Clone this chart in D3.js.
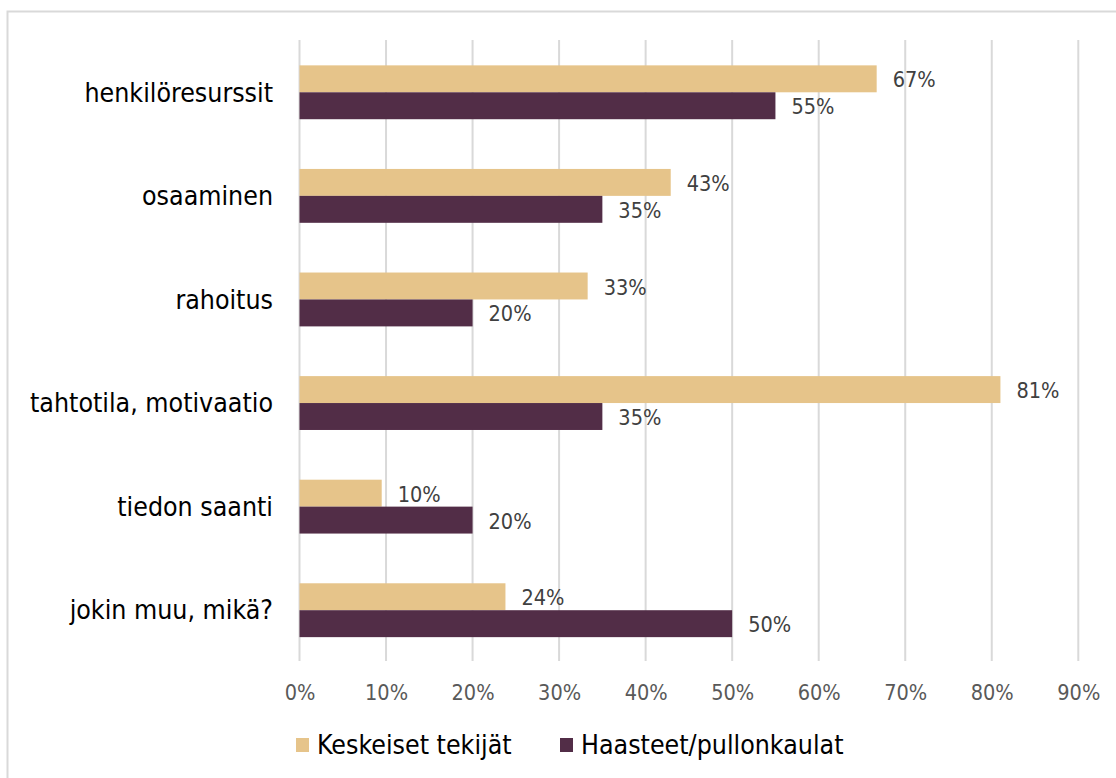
<!DOCTYPE html>
<html><head><meta charset="utf-8">
<script src="https://cdn.jsdelivr.net/npm/d3@7"></script>
<style>body{margin:0;background:#fff;} svg{display:block;}</style>
</head><body>
<svg id="c" width="1116" height="778"></svg>
<script>
const categories = ["henkilöresurssit","osaaminen","rahoitus","tahtotila, motivaatio","tiedon saanti","jokin muu, mikä?"];
const seriesNames = ["Keskeiset tekijät","Haasteet/pullonkaulat"];
const keskeiset = [66.7, 42.9, 33.3, 81.0, 9.5, 23.8];
const haasteet = [55, 35, 20, 35, 20, 50];
const tickValues = [0,10,20,30,40,50,60,70,80,90];
const colors = ["#E6C48A","#522D47"];
const FONT = "'DejaVu Sans Condensed', 'DejaVu Sans', sans-serif";

const svg = d3.select("#c");
svg.append("rect").attr("x",7.5).attr("y",11.5).attr("width",1120).attr("height",780)
  .attr("fill","#fff").attr("stroke","#d9d9d9").attr("stroke-width",2);

const x = d3.scaleLinear().domain([0,90]).range([299.5,1078.3]);
const y = d3.scaleBand().domain(categories).range([40.5,662]).paddingInner(0.48).paddingOuter(0.24);
const y2 = d3.scaleBand().domain([0,1]).range([0,y.bandwidth()]);

// gridlines
svg.append("g").selectAll("line").data(tickValues).join("line")
  .attr("x1",d=>x(d)).attr("x2",d=>x(d)).attr("y1",40).attr("y2",661)
  .attr("stroke","#d9d9d9").attr("stroke-width",2);

// x axis labels
const xa = svg.append("g").attr("transform","translate(0,692)")
  .call(d3.axisBottom(x).tickValues(tickValues).tickFormat(d=>d+"%").tickSize(0));
xa.select(".domain").remove();
xa.selectAll("text").attr("dy","0.35em").attr("y",0).attr("fill","#595959")
  .style("font-family",FONT).style("font-size","21.5px");

// y labels
const ya = svg.append("g").attr("transform","translate(273,0)")
  .call(d3.axisLeft(y).tickSize(0).tickPadding(0));
ya.select(".domain").remove();
ya.selectAll("text").attr("fill","#000").style("font-family",FONT).style("font-size","26.5px").attr("dy","0.35em");

const data = [keskeiset, haasteet];
data.forEach((vals,si)=>{
  const g = svg.append("g");
  g.selectAll("rect").data(vals).join("rect")
    .attr("x",x(0)).attr("y",(d,i)=>y(categories[i])+y2(si))
    .attr("width",d=>x(d)-x(0)).attr("height",y2.bandwidth())
    .attr("fill",colors[si]);
  g.selectAll("text").data(vals).join("text")
    .attr("x",d=>x(d)+16).attr("y",(d,i)=>y(categories[i])+y2(si)+y2.bandwidth()/2+1)
    .attr("dy","0.35em").attr("fill","#404040")
    .style("font-family",FONT).style("font-size","21.5px")
    .text(d=>Math.round(d)+"%");
});

// legend
const lx = [296, 560];
seriesNames.forEach((n,i)=>{
  svg.append("rect").attr("x",lx[i]).attr("y",738).attr("width",13).attr("height",14).attr("fill",colors[i]);
  svg.append("text").attr("x",lx[i]+21).attr("y",745).attr("dy","0.35em").attr("fill","#000")
    .style("font-family",FONT).style("font-size","26.5px").text(n);
});
</script>
</body></html>
